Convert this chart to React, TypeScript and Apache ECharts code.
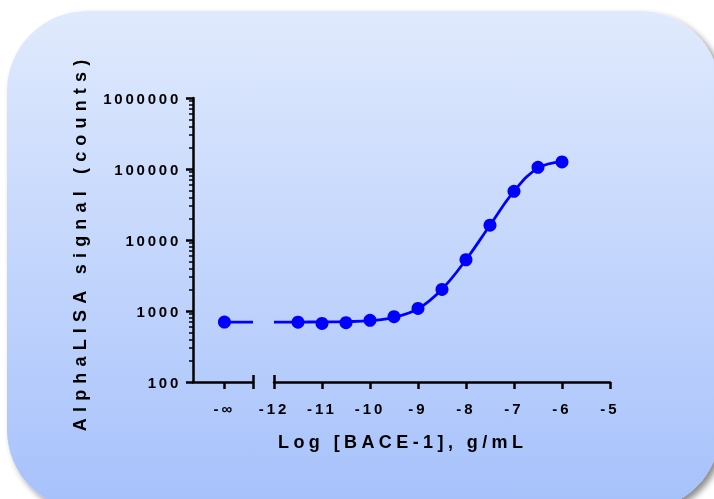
import React, { useEffect, useRef } from 'react';
import * as echarts from 'echarts';

// ---- data ----
const zeroDoseLabel = '-∞';
const zeroDoseX = 0; // slot of the zero-dose point on the broken-off axis segment
const zeroDoseSignal = 698;
const zeroDoseFit = 698;

const logConc = [-11.5, -11, -10.5, -10, -9.5, -9, -8.5, -8, -7.5, -7, -6.5, -6];
const signal = [697, 669, 684, 738, 832, 1088, 2013, 5270, 16150, 48550, 105700, 125900];

const fitLogConc = [-12, -11.5, -11, -10.5, -10, -9.5, -9, -8.5, -8, -7.5, -7, -6.5, -6];
const fitSignal = [698, 699, 701, 708, 730, 815, 1075, 2030, 5270, 16150, 48550, 103000, 126000];

const yTicks = [100, 1000, 10000, 100000, 1000000];
const xMin = -12;
const xMax = -5;

const xTitle = 'Log [BACE-1], g/mL';
const yTitle = 'AlphaLISA signal (counts)';

const FONT = '"Liberation Sans", Arial, Helvetica, sans-serif';
const BLUE = '#0000ff';
const BLACK = '#000000';

export default function App() {
  const ref = useRef<HTMLDivElement>(null);

  useEffect(() => {
    const el = ref.current;
    if (!el) return;
    const chart = echarts.init(el, undefined, { renderer: 'svg' });

    // letter spacing (the reference uses widely spaced bold text)
    const ctx = document.createElement('canvas').getContext('2d');
    let xs = 4.5;
    let ys = 6;
    let ySpacing = 2.8;
    if (ctx) {
      ctx.font = `bold 18px ${FONT}`;
      const wx = ctx.measureText(xTitle).width;
      const wy = ctx.measureText(yTitle).width;
      xs = (245 - wx) / (xTitle.length - 1);
      ys = (372 - wy) / (yTitle.length - 1);
      ctx.font = `bold 15px ${FONT}`;
      const wl = ctx.measureText('1000000').width;
      ySpacing = Math.max(1, (75 - wl) / 6);
    }
    const xSpacing = 3.0;

    const minorTicks: number[] = [];
    for (let d = 0; d < yTicks.length - 1; d++) {
      for (let m = 2; m <= 9; m++) minorTicks.push(yTicks[d] * m);
    }

    const lineStyle = { color: BLACK, width: 2.5 };
    const labelStyle = {
      color: BLACK,
      fontWeight: 'bold' as const,
      fontSize: 15,
      fontFamily: FONT,
    };

    const option: any = {
      animation: false,
      graphic: [
        {
          type: 'rect',
          z: -10,
          silent: true,
          shape: { x: 7, y: 11, width: 713, height: 499, r: 80 },
          style: {
            fill: new echarts.graphic.LinearGradient(0, 0, 0, 1, [
              { offset: 0, color: '#e0eafd' },
              { offset: 1, color: '#a6c1fb' },
            ]),
            shadowBlur: 6,
            shadowOffsetX: 4,
            shadowOffsetY: 4,
            shadowColor: 'rgba(0,0,0,0.45)',
          },
        },
        {
          type: 'text',
          x: 400.5 + xs / 2,
          y: 442,
          silent: true,
          style: {
            text: xTitle,
            font: `bold 18px ${FONT}`,
            fill: BLACK,
            textAlign: 'center',
            textVerticalAlign: 'middle',
            align: 'center',
            verticalAlign: 'middle',
          },
        },
        {
          type: 'text',
          x: 80,
          y: 245.5 - ys / 2,
          rotation: Math.PI / 2,
          silent: true,
          style: {
            text: yTitle,
            font: `bold 18px ${FONT}`,
            fill: BLACK,
            textAlign: 'center',
            textVerticalAlign: 'middle',
            align: 'center',
            verticalAlign: 'middle',
          },
        },
      ],
      grid: [
        { left: 193, top: 98, width: 60, height: 284 },
        { left: 274, top: 98, width: 336, height: 284 },
      ],
      xAxis: [
        {
          gridIndex: 0,
          type: 'value',
          position: 'bottom',
          min: -1.1,
          max: 1,
          axisLine: { show: true, onZero: false, lineStyle },
          axisTick: { show: true, customValues: [zeroDoseX, 1], length: 7, lineStyle },
          axisLabel: {
            ...labelStyle,
            customValues: [zeroDoseX],
            formatter: () => zeroDoseLabel,
            margin: 19,
          },
          splitLine: { show: false },
        },
        {
          gridIndex: 1,
          type: 'value',
          position: 'bottom',
          min: xMin,
          max: xMax,
          interval: 1,
          axisLine: { show: true, onZero: false, lineStyle },
          axisTick: { show: true, length: 7, lineStyle },
          axisLabel: { ...labelStyle, margin: 19, showMinLabel: true, showMaxLabel: true },
          splitLine: { show: false },
        },
        {
          gridIndex: 0,
          type: 'value',
          position: 'bottom',
          min: -1.1,
          max: 1,
          axisLine: { show: false, onZero: false },
          axisTick: { show: true, inside: true, customValues: [1], length: 7, lineStyle },
          axisLabel: { show: false },
          splitLine: { show: false },
        },
        {
          gridIndex: 1,
          type: 'value',
          position: 'bottom',
          min: xMin,
          max: xMax,
          interval: 1,
          axisLine: { show: false, onZero: false },
          axisTick: { show: true, inside: true, customValues: [xMin], length: 7, lineStyle },
          axisLabel: { show: false },
          splitLine: { show: false },
        },
      ],
      yAxis: [
        {
          gridIndex: 0,
          type: 'log',
          logBase: 10,
          min: yTicks[0],
          max: yTicks[yTicks.length - 1],
          position: 'left',
          axisLine: { show: true, onZero: false, lineStyle },
          axisTick: { show: true, customValues: yTicks, length: 7, lineStyle },
          axisLabel: {
            ...labelStyle,
            customValues: yTicks,
            margin: 12,
            padding: [4, 0, 0, 0],
            formatter: (v: number) => String(Math.round(v)),
          },
          splitLine: { show: false },
          minorTick: { show: false },
        },
        {
          gridIndex: 0,
          type: 'log',
          logBase: 10,
          min: yTicks[0],
          max: yTicks[yTicks.length - 1],
          position: 'left',
          offset: 0,
          axisLine: { show: false, onZero: false },
          axisTick: { show: true, customValues: minorTicks, length: 4, lineStyle: { color: BLACK, width: 1.5 } },
          axisLabel: { show: false },
          splitLine: { show: false },
        },
        {
          gridIndex: 1,
          type: 'log',
          logBase: 10,
          min: yTicks[0],
          max: yTicks[yTicks.length - 1],
          show: false,
          splitLine: { show: false },
        },
      ],
      series: [
        {
          type: 'line',
          xAxisIndex: 0,
          yAxisIndex: 0,
          data: [[zeroDoseX, zeroDoseFit], [1, zeroDoseFit]],
          symbol: 'none',
          lineStyle: { color: BLUE, width: 2.8, opacity: 1 },
          z: 2,
        },
        {
          type: 'scatter',
          xAxisIndex: 0,
          yAxisIndex: 0,
          data: [[zeroDoseX, zeroDoseSignal]],
          symbol: 'circle',
          symbolSize: 13,
          itemStyle: { color: BLUE, opacity: 1 },
          z: 3,
        },
        {
          type: 'line',
          xAxisIndex: 1,
          yAxisIndex: 2,
          data: fitLogConc.map((x, i) => [x, fitSignal[i]]),
          smooth: 0.4,
          symbol: 'none',
          lineStyle: { color: BLUE, width: 2.8, opacity: 1 },
          z: 2,
        },
        {
          type: 'scatter',
          xAxisIndex: 1,
          yAxisIndex: 2,
          data: logConc.map((x, i) => [x, signal[i]]),
          symbol: 'circle',
          symbolSize: 13,
          itemStyle: { color: BLUE, opacity: 1 },
          z: 3,
        },
      ],
    };

    chart.setOption(option);

    const yLabelSet = new Set(yTicks.map((v) => String(v)));
    const applySpacing = () => {
      el.querySelectorAll('text').forEach((t) => {
        const s = t.textContent || '';
        const node = t as unknown as SVGTextElement;
        if (s === xTitle) node.style.letterSpacing = `${xs}px`;
        else if (s === yTitle) node.style.letterSpacing = `${ys}px`;
        else if (yLabelSet.has(s)) node.style.letterSpacing = `${ySpacing}px`;
        else node.style.letterSpacing = `${xSpacing}px`;
      });
    };
    applySpacing();
    chart.on('finished', applySpacing);

    return () => {
      chart.dispose();
    };
  }, []);

  return (
    <div
      ref={ref}
      style={{ position: 'fixed', left: 0, top: 0, width: 714, height: 499 }}
    />
  );
}
